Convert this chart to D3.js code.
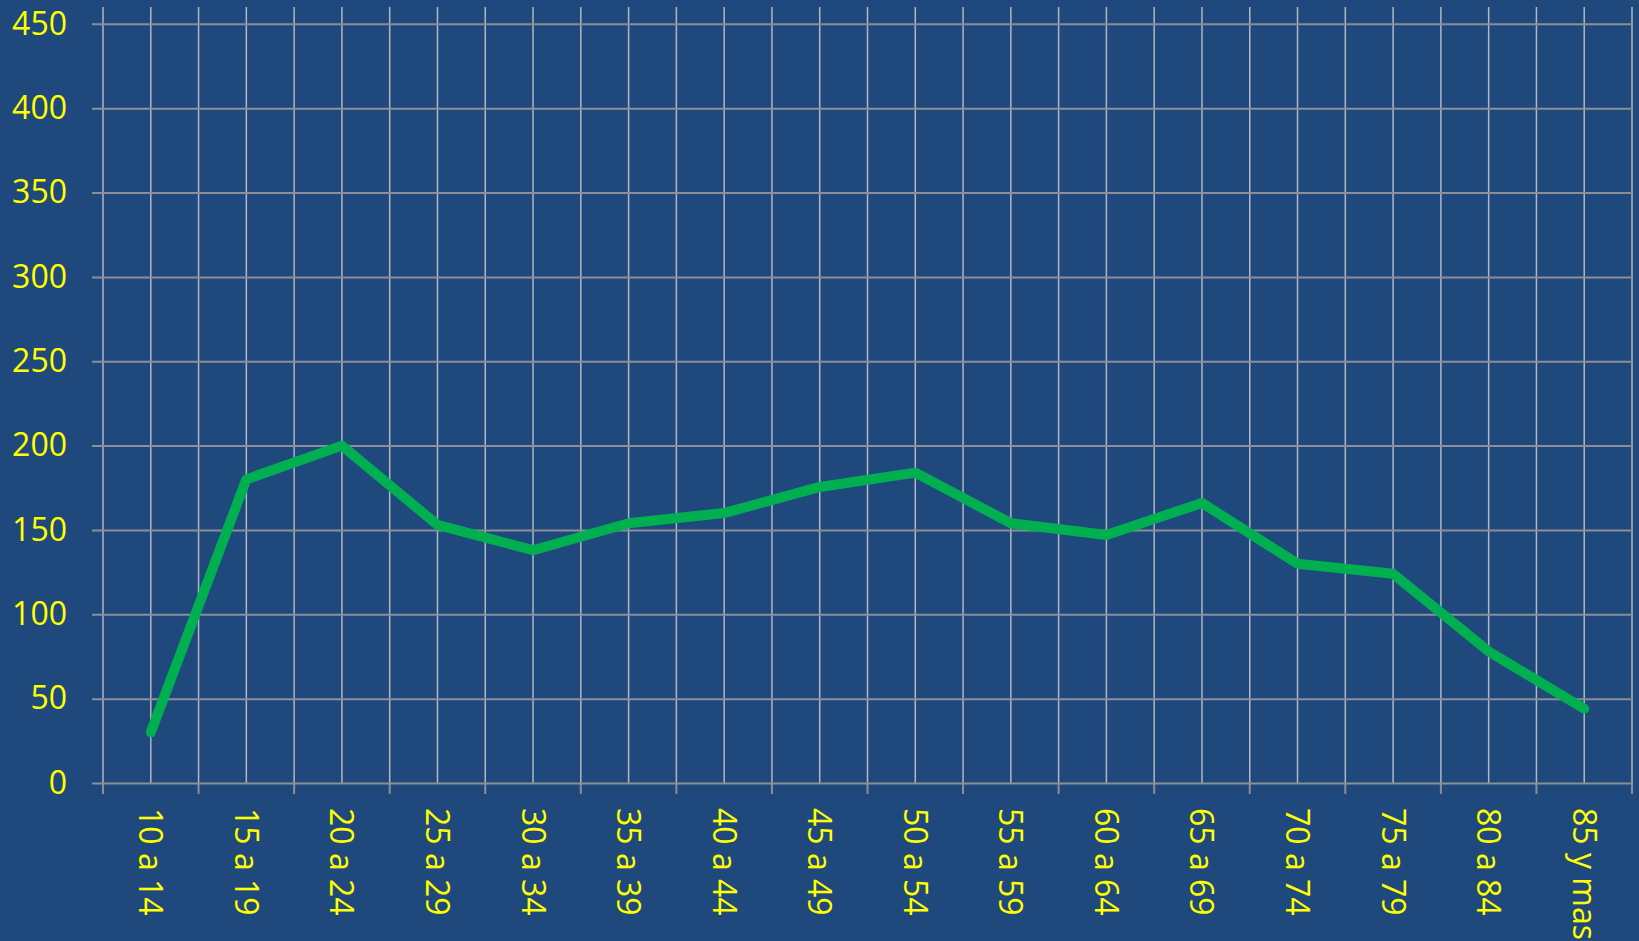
<!DOCTYPE html>
<html>
<head>
<meta charset="utf-8">
<script src="https://cdn.jsdelivr.net/npm/d3@7"></script>
<style>
  html, body { margin: 0; padding: 0; background: #1f497d; }
  svg { display: block; }
</style>
</head>
<body>
<div id="chart"></div>
<script>
const categories = ['10 a 14', '15 a 19', '20 a 24', '25 a 29', '30 a 34', '35 a 39', '40 a 44', '45 a 49',
  '50 a 54', '55 a 59', '60 a 64', '65 a 69', '70 a 74', '75 a 79', '80 a 84', '85 y mas'];
const values = [30, 180, 200, 153, 138, 154, 160, 175.5, 184, 154, 147, 166, 130, 124, 78, 44];
const yTicks = [0, 50, 100, 150, 200, 250, 300, 350, 400, 450];

const width = 1639;
const height = 941;
const margins = { top: 7, right: 7, bottom: 158, left: 103 };
const effectiveWidth = width - margins.left - margins.right;
const effectiveHeight = height - margins.top - margins.bottom;

const svg = d3.select('#chart')
  .append('svg')
  .attr('width', width)
  .attr('height', height)
  .style('background', '#1f497d')
  .append('g')
  .attr('transform', 'translate(' + margins.left + ',' + margins.top + ')');

/* Scales */
const xBand = d3.scaleBand()
  .domain(categories)
  .range([0, effectiveWidth]);

const xScale = (c) => xBand(c) + xBand.bandwidth() / 2;

const yScale = d3.scaleLinear()
  .domain([0, 460])
  .range([effectiveHeight, 0]);

/* Vertical grid: at every band edge and band centre */
const vLines = [];
categories.forEach((c) => { vLines.push(xBand(c)); vLines.push(xScale(c)); });
vLines.push(effectiveWidth);

svg.append('g')
  .selectAll('line')
  .data(vLines)
  .enter()
  .append('line')
  .attr('x1', (d) => d)
  .attr('x2', (d) => d)
  .attr('y1', 0)
  .attr('y2', effectiveHeight)
  .style('stroke', '#b3b6bd')
  .style('stroke-width', 1.5);

/* Horizontal grid + y labels */
const yAxis = svg.append('g')
  .call(d3.axisLeft(yScale)
    .tickValues(yTicks)
    .tickSize(-effectiveWidth - 11)
    .tickPadding(24));
yAxis.select('.domain').remove();
yAxis.selectAll('.tick line')
  .attr('x1', -11)
  .attr('x2', effectiveWidth)
  .style('stroke', '#8c8f96')
  .style('stroke-width', 2);
yAxis.selectAll('.tick text')
  .style('fill', '#ffff00')
  .style('font-family', '"Open Sans", sans-serif')
  .style('font-size', '32px')
  .attr('x', -36);

/* Bottom tick marks at band edges */
svg.append('g')
  .selectAll('line')
  .data(categories.map((c) => xBand(c)).concat([effectiveWidth]))
  .enter()
  .append('line')
  .attr('x1', (d) => d)
  .attr('x2', (d) => d)
  .attr('y1', effectiveHeight)
  .attr('y2', effectiveHeight + 11)
  .style('stroke', '#8c8f96')
  .style('stroke-width', 2);

/* X labels, rotated */
svg.append('g')
  .selectAll('text')
  .data(categories)
  .enter()
  .append('text')
  .attr('transform', (c) => 'translate(' + xScale(c) + ',' + (effectiveHeight + 25) + ') rotate(90)')
  .attr('dy', '0.36em')
  .style('fill', '#ffff00')
  .style('font-family', '"Open Sans", sans-serif')
  .style('font-size', '32px')
  .text((c) => c);

/* Line */
const line = d3.line()
  .x((d, i) => xScale(categories[i]))
  .y((d) => yScale(d));

svg.append('path')
  .datum(values)
  .attr('d', line)
  .style('fill', 'none')
  .style('stroke', '#00b050')
  .style('stroke-width', 10)
  .style('stroke-linecap', 'round')
  .style('stroke-linejoin', 'round');
</script>
</body>
</html>
